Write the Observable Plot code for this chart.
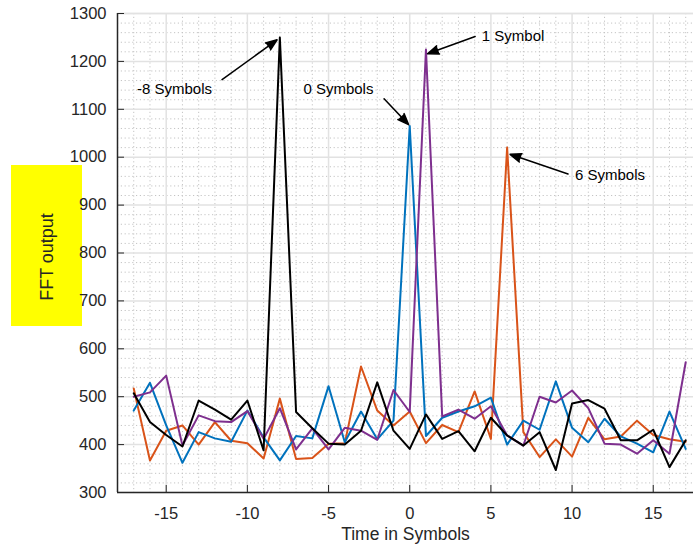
<!DOCTYPE html>
<html>
<head>
<meta charset="utf-8">
<script src="https://cdn.jsdelivr.net/npm/d3@7"></script>
<script src="https://cdn.jsdelivr.net/npm/@observablehq/plot@0.6"></script>
<style>
  html, body { margin: 0; padding: 0; background: #fff; }
  #chart { position: relative; width: 693px; height: 548px; }
  svg { font-family: "Liberation Sans", Arial, Helvetica, sans-serif; }
</style>
</head>
<body>
<div id="chart"></div>
<script>
// ---- data ----
const symbols = [-17,-16,-15,-14,-13,-12,-11,-10,-9,-8,-7,-6,-5,-4,-3,-2,-1,0,1,2,3,4,5,6,7,8,9,10,11,12,13,14,15,16,17];
const offset0  = [471,529,440,362,426,413,406,471,415,367,418,413,522,405,469,411,450,1065,418,456,469,480,498,400,450,431,532,435,405,454,417,402,384,469,391];
const offset1  = [500,509,544,398,461,449,447,470,412,476,390,434,390,435,429,410,514,468,1225,459,473,454,480,419,398,500,488,513,476,402,400,381,409,381,572];
const offset6  = [517,367,429,440,400,447,408,403,371,496,370,372,402,403,563,471,440,469,403,441,426,511,412,1020,426,374,411,375,456,411,417,450,420,411,406];
const offsetM8 = [507,447,420,396,492,473,452,492,388,1250,468,434,402,400,429,530,429,391,463,412,428,386,456,419,398,426,347,486,493,475,409,409,431,353,409];
const seriesNames = ["6 Symbols", "0 Symbols", "1 Symbol", "-8 Symbols"];
const seriesValues = [offset6, offset0, offset1, offsetM8];

const xTicks = [-15,-10,-5,0,5,10,15];
const yTicks = [300,400,500,600,700,800,900,1000,1100,1200,1300];

// annotations (data units)
const annLabels = ["-8 Symbols", "0 Symbols", "1 Symbol", "6 Symbols"];
const annTextX  = [-16.8, -6.55, 4.44, 10.18];
const annTextY  = [1141, 1141, 1252, 962];
const annFromX  = [-11.56, -1.58, 4.03, 9.75];
const annFromY  = [1162, 1122, 1252, 965];
const annToX    = [-8.17, -0.07, 1.10, 6.18];
const annToY    = [1245, 1068, 1216, 1006];

// ---- styles ----
const colors = {"0 Symbols": "#0072BD", "1 Symbol": "#7E2F8E", "6 Symbols": "#D95319", "-8 Symbols": "#000000"};
const xDomain = [-18, 17.48];
const yDomain = [300, 1300];

const rows = [];
seriesNames.forEach((name, s) => {
  symbols.forEach((x, i) => rows.push({series: name, x, y: seriesValues[s][i]}));
});
const ann = annLabels.map((t, i) => ({t, tx: annTextX[i], ty: annTextY[i], x1: annFromX[i], y1: annFromY[i], x2: annToX[i], y2: annToY[i]}));

const minorX = d3.range(-18, 18).filter(v => v % 5 !== 0);
const minorY = d3.range(300, 1301, 20).filter(v => v % 100 !== 0);

const txt = "#262626";
const plot = Plot.plot({
  width: 693,
  height: 548,
  marginLeft: 117,
  marginRight: 0,
  marginTop: 13,
  marginBottom: 56,
  style: {fontFamily: '"Liberation Sans", Arial, sans-serif', background: "#fff"},
  x: {domain: xDomain, axis: null},
  y: {domain: yDomain, axis: null},
  marks: [
    Plot.ruleX(minorX, {stroke: "#c4c4c4", strokeDasharray: "1.2,2.6", strokeWidth: 1}),
    Plot.ruleY(minorY, {stroke: "#c4c4c4", strokeDasharray: "1.2,2.6", strokeWidth: 1}),
    Plot.ruleX(xTicks, {stroke: "#e2e2e2", strokeWidth: 1.5}),
    Plot.ruleY(yTicks, {stroke: "#e2e2e2", strokeWidth: 1.5}),
    Plot.ruleY([yDomain[1]], {stroke: "#e2e2e2", strokeWidth: 1.5}),
    Plot.line(rows, {x: "x", y: "y", z: "series", stroke: d => colors[d.series], strokeWidth: 2}),
    Plot.ruleX([xDomain[0]], {stroke: "#262626", strokeWidth: 1.5}),
    Plot.ruleY([yDomain[0]], {stroke: "#262626", strokeWidth: 1.5}),
    Plot.axisX(xTicks, {tickSize: -7, tickPadding: 22, fontSize: 16.5, fill: txt, stroke: "#262626", tickFormat: d => String(d)}),
    Plot.axisY(yTicks, {tickSize: -7, tickPadding: 18, fontSize: 16.5, fill: txt, stroke: "#262626", tickFormat: d => String(d)}),
    Plot.arrow(ann, {x1: "x1", y1: "y1", x2: "x2", y2: "y2", stroke: "#000", strokeWidth: 1.5, headLength: 12, headAngle: 42}),
    Plot.text(ann, {x: "tx", y: "ty", text: "t", textAnchor: "start", fontSize: 15, fill: "#000"}),
    Plot.text(["Time in Symbols"], {frameAnchor: "bottom", dy: 42, fontSize: 17.5, fill: txt, lineAnchor: "middle"})
  ]
});

const svg = d3.select(plot);
svg.selectAll('g[aria-label="arrow"] path').attr("fill", "#000").attr("stroke-linejoin", "miter");
// yellow y-axis label box behind everything
const g = svg.insert("g", ":first-child");
g.append("rect").attr("x", 11).attr("y", 165).attr("width", 71).attr("height", 161).attr("fill", "#ffff00");
svg.append("text")
  .attr("transform", "translate(53,257) rotate(-90)")
  .attr("text-anchor", "middle")
  .attr("font-size", 18)
  .attr("fill", txt)
  .text("FFT output");

document.getElementById("chart").appendChild(plot);
</script>
</body>
</html>
